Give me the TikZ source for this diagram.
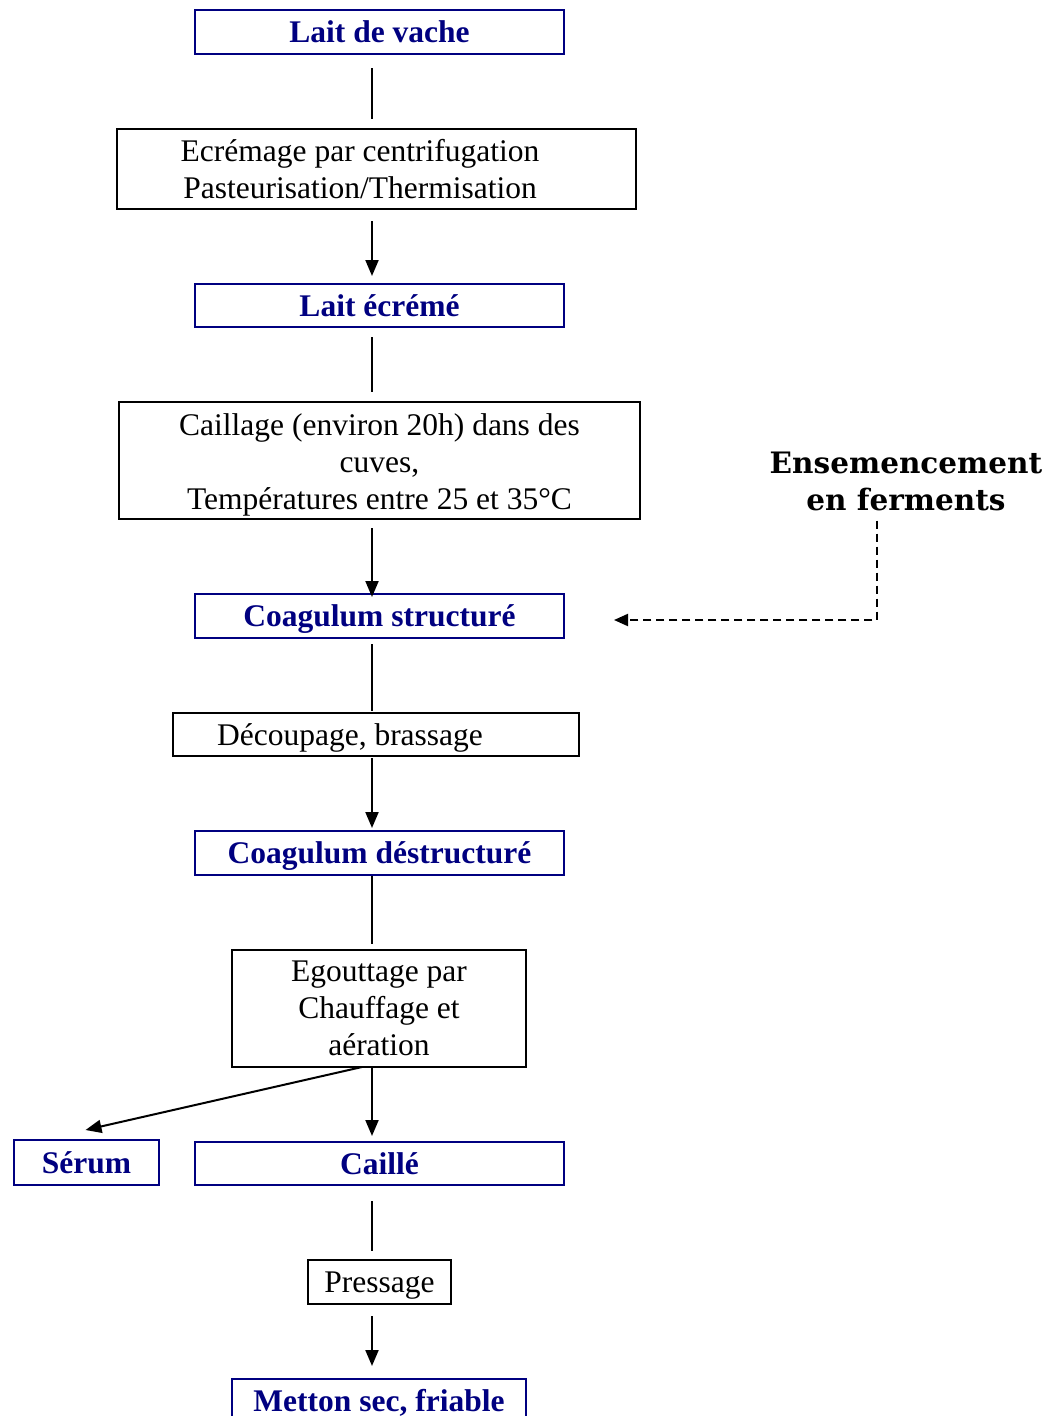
\documentclass[tikz,border=0pt]{standalone}
\usepackage{fontspec}
\setmainfont{Liberation Serif}
\newfontfamily\ensfont{DejaVu Serif}
\usetikzlibrary{arrows.meta,calc}
\definecolor{navyb}{RGB}{0,0,128}
\begin{document}
\begin{tikzpicture}[x=1pt,y=-1pt,
  every node/.style={inner sep=0pt,font=\fontsize{31.5}{37}\selectfont},
  bluebox/.style={draw=navyb,line width=2pt,text=navyb,font=\fontsize{31.5}{37}\selectfont\bfseries,
    text height=21.5pt,text depth=0pt,align=center},
  stepbox/.style={draw=black,line width=2pt,align=center},
  onebox/.style={stepbox,text height=21.5pt,text depth=0pt},
  link/.style={line width=2pt},
  arr/.style={line width=2pt,-{Triangle[length=16pt,width=13pt]}},
  dasharr/.style={line width=2pt,dash pattern=on 8pt off 5pt,-{Triangle[length=14pt,width=12pt]}}]
\useasboundingbox (0,0) rectangle (1061,1416);
\coordinate (ax) at (372,0);
\node[bluebox,minimum width=369,minimum height=44] (lait) at (379.5,32) {Lait de vache};
\node[stepbox,minimum width=519,minimum height=80] (ecr) at (376.5,169)
  {Ecrémage par centrifugation\hspace*{33pt}\\Pasteurisation/Thermisation\hspace*{33pt}};
\node[bluebox,minimum width=369,minimum height=43] (ecreme) at (379.5,305.5) {Lait écrémé};
\node[stepbox,minimum width=521,minimum height=117] (caill) at (379.5,460.5)
  {\rule{0pt}{30pt}Caillage (environ 20h) dans des\\cuves,\\Températures entre 25 et 35°C};
\node[bluebox,minimum width=369,minimum height=44] (cstr) at (379.5,616) {Coagulum structuré};
\node[onebox,minimum width=406,minimum height=43] (decoup) at (376,734.5)
  {Découpage, brassage\hspace*{52pt}};
\node[bluebox,minimum width=369,minimum height=44] (cdes) at (379.5,853) {Coagulum déstructuré};
\node[stepbox,minimum width=294,minimum height=117] (egout) at (379,1008.5)
  {Egouttage par\\Chauffage et\\aération};
\node[bluebox,minimum width=145,minimum height=45] (serum) at (86.5,1162.5) {Sérum};
\node[bluebox,minimum width=369,minimum height=43] (caille) at (379.5,1163.5) {Caillé};
\node[onebox,minimum width=143,minimum height=44] (press) at (379.5,1282) {Pressage};
\node[bluebox,minimum width=294,minimum height=44] (metton) at (379,1401) {Metton sec, friable};
\node[align=center,font=\ensfont\bfseries\fontsize{29.5}{37}\selectfont] (ens) at (906,481)
  {Ensemencement\\en ferments};
% connectors
\draw[link,shorten <=13pt,shorten >=9pt] (lait.south -| ax) -- (ecr.north -| ax);
\draw[arr,shorten <=11pt,shorten >=7pt] (ecr.south -| ax) -- (ecreme.north -| ax);
\draw[link,shorten <=9pt,shorten >=9pt] (ecreme.south -| ax) -- (caill.north -| ax);
\draw[arr,shorten <=8pt,shorten >=-4pt] (caill.south -| ax) -- (cstr.north -| ax);
\draw[link,shorten <=5pt,shorten >=1pt] (cstr.south -| ax) -- (decoup.north -| ax);
\draw[arr,shorten <=1pt,shorten >=2pt] (decoup.south -| ax) -- (cdes.north -| ax);
\draw[link,shorten >=5pt] (cdes.south -| ax) -- (egout.north -| ax);
\draw[arr,shorten >=5pt] (egout.south -| ax) -- (caille.north -| ax);
\draw[arr] ($(egout.south)+(-17,-1)$) -- ($(serum.north)+(-1,-9)$);
\draw[link,shorten <=15pt,shorten >=8pt] (caille.south -| ax) -- (press.north -| ax);
\draw[arr,shorten <=11pt,shorten >=12pt] (press.south -| ax) -- (metton.north -| ax);
\draw[dasharr] ($(ens.south)+(-29,10)$) |- ($(cstr.east)+(49,4)$);
\end{tikzpicture}
\end{document}
